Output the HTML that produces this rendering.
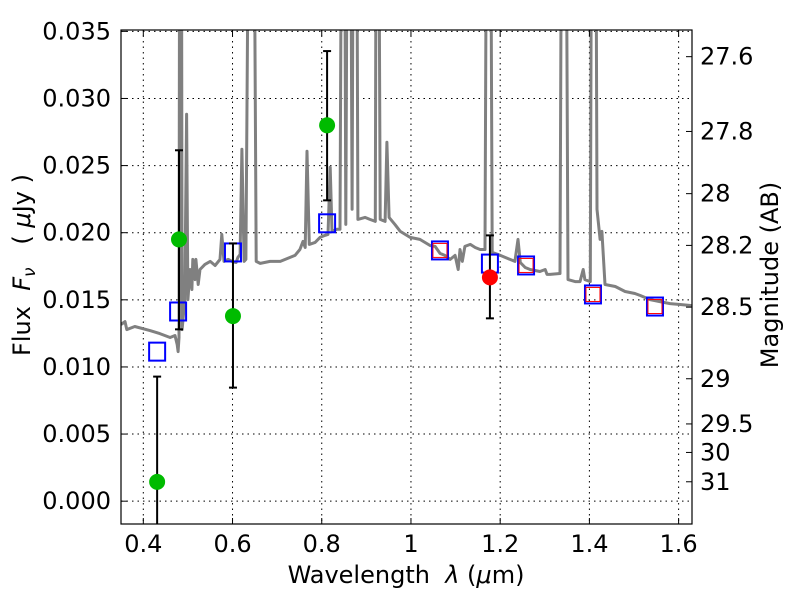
<!DOCTYPE html>
<html><head><meta charset="utf-8"><style>
body{margin:0;background:#fff;}
svg{display:block;font-family:"DejaVu Sans","Liberation Sans",sans-serif;}
text{white-space:pre;}
</style></head><body>
<svg id="chart" width="800" height="600" xmlns="http://www.w3.org/2000/svg">
<rect width="800" height="600" fill="#fff"/>
<defs><clipPath id="clip"><rect x="121" y="30" width="571" height="494"/></clipPath></defs>
<g id="grid"></g>
<g id="plot" clip-path="url(#clip)"></g>
<rect x="121" y="30" width="571" height="494" fill="none" stroke="#000" stroke-width="1.2"/>
<g id="axes"></g>
<text x="406" y="583" font-size="24" text-anchor="middle">Wavelength  <tspan font-style="italic">λ</tspan> (<tspan font-style="italic">μ</tspan>m)</text>
<text transform="translate(30,265) rotate(-90)" font-size="24" text-anchor="middle">Flux  <tspan font-style="italic">F</tspan><tspan font-style="italic" font-size="17" dy="5">ν</tspan><tspan dy="-5">   ( </tspan><tspan font-style="italic">μ</tspan>Jy )</text>
<text transform="translate(778,275) rotate(-90)" font-size="24" text-anchor="middle">Magnitude (AB)</text>
</svg>
<script>
const specWl=[0.350,0.359,0.363,0.381,0.415,0.437,0.460,0.471,0.476,0.478,0.480,0.482,0.485,0.487,0.489,0.493,0.497,0.500,0.505,0.509,0.511,0.516,0.518,0.523,0.527,0.538,0.550,0.561,0.572,0.576,0.581,0.590,0.599,0.608,0.612,0.617,0.621,0.626,0.630,0.639,0.646,0.653,0.662,0.684,0.707,0.729,0.740,0.751,0.758,0.763,0.767,0.772,0.785,0.796,0.807,0.814,0.819,0.823,0.834,0.841,0.846,0.850,0.854,0.859,0.863,0.868,0.872,0.877,0.881,0.897,0.908,0.920,0.923,0.926,0.931,0.942,0.946,0.951,0.964,0.976,0.998,1.020,1.043,1.054,1.065,1.076,1.088,1.099,1.106,1.110,1.115,1.121,1.133,1.144,1.155,1.166,1.171,1.177,1.182,1.195,1.211,1.222,1.233,1.240,1.245,1.256,1.267,1.289,1.301,1.305,1.312,1.334,1.339,1.346,1.352,1.368,1.379,1.386,1.390,1.402,1.406,1.413,1.417,1.424,1.428,1.435,1.458,1.480,1.502,1.514,1.536,1.558,1.581,1.603,1.630];
const specFlux=[0.01316,0.01338,0.01278,0.01301,0.01271,0.01248,0.01219,0.01234,0.01166,0.01114,0.01219,0.06,0.06,0.01278,0.01353,0.01502,0.02883,0.01502,0.01726,0.01577,0.01801,0.01651,0.01801,0.01614,0.01726,0.01764,0.01786,0.01756,0.01801,0.01987,0.01786,0.01801,0.01786,0.01778,0.01816,0.01838,0.02622,0.01786,0.01801,0.06,0.06,0.01786,0.01771,0.01786,0.01786,0.01816,0.01831,0.01875,0.01935,0.01890,0.02607,0.01913,0.01928,0.01965,0.01980,0.01987,0.02487,0.02010,0.02025,0.02025,0.06,0.06,0.02062,0.06,0.06,0.02174,0.06,0.06,0.02099,0.02114,0.02099,0.02084,0.06,0.06,0.02099,0.02084,0.02674,0.02114,0.02062,0.02010,0.01965,0.01950,0.01905,0.01898,0.01846,0.01831,0.01801,0.01831,0.01726,0.01875,0.01786,0.01898,0.01913,0.01890,0.01875,0.01875,0.06,0.06,0.01853,0.01838,0.01816,0.01801,0.01786,0.01950,0.01778,0.01741,0.01726,0.01711,0.01726,0.01689,0.01689,0.01696,0.06,0.06,0.01651,0.01636,0.01636,0.01726,0.01651,0.01636,0.06,0.06,0.02174,0.01950,0.02010,0.01614,0.01599,0.01562,0.01547,0.01532,0.01502,0.01487,0.01472,0.01465,0.01457];
const obsWl=[0.431,0.480,0.601,0.812];
const obsFlux=[0.00144,0.0195,0.01379,0.0280];
const obsLo=[-0.005,0.01280,0.00846,0.02241];
const obsHi=[0.00928,0.02614,0.0192,0.03353];
const redWl=[1.177];
const redFlux=[0.01667];
const redLo=[0.01362];
const redHi=[0.0198];
const modelWl=[0.431,0.478,0.601,0.812,1.065,1.177,1.258,1.408,1.547];
const modelFlux=[0.01114,0.01413,0.01853,0.0207,0.01868,0.0177,0.01756,0.0154,0.0145];
const model2Wl=[1.065,1.258,1.408,1.547];
const model2Flux=[0.01868,0.01756,0.0154,0.0145];
const xTicks=[0.4,0.6,0.8,1.0,1.2,1.4,1.6];
const xTickLabels=["0.4","0.6","0.8","1","1.2","1.4","1.6"];
const yTicks=[0,0.005,0.01,0.015,0.02,0.025,0.03,0.035];
const yTickLabels=["0.000","0.005","0.010","0.015","0.020","0.025","0.030","0.035"];
const magTicks=[27.6,27.8,28,28.2,28.5,29,29.5,30,31];
const magTickLabels=["27.6","27.8","28","28.2","28.5","29","29.5","30","31"];

const X0=121,X1=692,Y0=30,Y1=524,xmin=0.35,xmax=1.63,ymin=-0.0017,ymax=0.0351;
const sx=v=>X0+(v-xmin)/(xmax-xmin)*(X1-X0);
const sy=v=>Y1-(v-ymin)/(ymax-ymin)*(Y1-Y0);
const NS="http://www.w3.org/2000/svg";
function mk(parent,tag,attrs){const e=document.createElementNS(NS,tag);for(const k in attrs)e.setAttribute(k,attrs[k]);parent.appendChild(e);return e;}
const grid=document.getElementById('grid'),plot=document.getElementById('plot'),axes=document.getElementById('axes');

xTicks.forEach((t,i)=>{
  const x=sx(t);
  const g=mk(grid,'line',{x1:x,x2:x,y1:Y0,y2:Y1,stroke:'#000','stroke-width':1,'stroke-dasharray':'1.5,4'});
  
  
  mk(axes,'line',{x1:x,x2:x,y1:Y1,y2:Y1-6,stroke:'#000'});
  mk(axes,'line',{x1:x,x2:x,y1:Y0,y2:Y0+6,stroke:'#000'});
  const tx=mk(axes,'text',{x:x,y:Y1+28,'font-size':24,'text-anchor':'middle'});
  tx.textContent=xTickLabels[i];
  
  
});
yTicks.forEach((t,i)=>{
  const y=sy(t);
  const g=mk(grid,'line',{x1:X0,x2:X1,y1:y,y2:y,stroke:'#000','stroke-width':1,'stroke-dasharray':'1.5,4'});
  
  
  mk(axes,'line',{x1:X0,x2:X0+6,y1:y,y2:y,stroke:'#000'});
  const tx=mk(axes,'text',{x:X0-10,y:y+8,'font-size':24,'text-anchor':'end'});
  tx.textContent=yTickLabels[i];
  
  
});
magTicks.forEach((m,i)=>{
  const y=sy(Math.pow(10,(23.9-m)/2.5));
  mk(axes,'line',{x1:X1,x2:X1-6,y1:y,y2:y,stroke:'#000'});
  const tx=mk(axes,'text',{x:X1+8,y:y+8,'font-size':24,'text-anchor':'start'});
  tx.textContent=magTickLabels[i];
  
  
});

const pts=specWl.map((w,i)=>sx(w).toFixed(1)+','+sy(specFlux[i]).toFixed(1)).join(' ');
const sp=mk(plot,'polyline',{points:pts,fill:'none',stroke:'#808080','stroke-width':3,'stroke-linejoin':'round'});



function errbar(w,lo,hi){
  const x=sx(w);
  const e=mk(plot,'g',{stroke:'#000','stroke-width':2});
  
  
  mk(e,'line',{x1:x,x2:x,y1:sy(lo),y2:sy(hi)});
  mk(e,'line',{x1:x-4,x2:x+4,y1:sy(lo),y2:sy(lo)});
  mk(e,'line',{x1:x-4,x2:x+4,y1:sy(hi),y2:sy(hi)});
}
modelWl.forEach((w,i)=>{
  const r=mk(plot,'rect',{x:sx(w)-8,y:sy(modelFlux[i])-9,width:16,height:18,fill:'none',stroke:'#0000ff','stroke-width':2});
  
  
});
model2Wl.forEach((w,i)=>{
  const r=mk(plot,'rect',{x:sx(w)-7,y:sy(model2Flux[i])-7,width:14,height:14,fill:'none',stroke:'#ff0000','stroke-width':1});
  
  
});
obsWl.forEach((w,i)=>{
  errbar(w,obsLo[i],obsHi[i]);
  const c=mk(plot,'circle',{cx:sx(w),cy:sy(obsFlux[i]),r:8,fill:'#00bb00'});
  
  
});
redWl.forEach((w,i)=>{
  errbar(w,redLo[i],redHi[i]);
  const c=mk(plot,'circle',{cx:sx(w),cy:sy(redFlux[i]),r:8,fill:'#ff0000'});
  
  
});
</script>
</body></html>
